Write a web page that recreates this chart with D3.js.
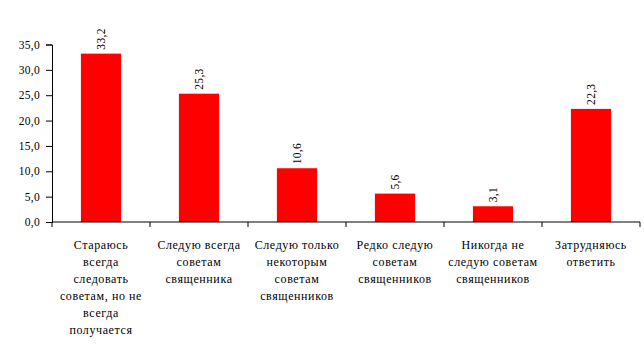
<!DOCTYPE html>
<html><head><meta charset="utf-8">
<script src="https://cdn.jsdelivr.net/npm/d3@7"></script>
<style>body{margin:0;background:#fff;} svg{display:block;}</style>
</head><body>
<script>
const categories = [
  ["Стараюсь","всегда","следовать","советам, но не","всегда","получается"],
  ["Следую всегда","советам","священника"],
  ["Следую только","некоторым","советам","священников"],
  ["Редко следую","советам","священников"],
  ["Никогда не","следую советам","священников"],
  ["Затрудняюсь","ответить"]
];
const values = [33.2, 25.3, 10.6, 5.6, 3.1, 22.3];
const yTicks = [0,5,10,15,20,25,30,35];

const W = 644, H = 356;
const m = {left: 52, right: 4, top: 44.5, bottom: 134};
const FF = '"Liberation Serif"';
const svg = d3.select("body").append("svg").attr("width", W).attr("height", H);

const x = d3.scaleBand().domain(d3.range(values.length)).range([m.left, W - m.right]).paddingInner(0.59).paddingOuter(0.295);
const xb = d3.scaleBand().domain(d3.range(values.length)).range([m.left, W - m.right]);
const y = d3.scaleLinear().domain([0, 35]).range([H - m.bottom, m.top]);
const fmt = v => d3.format(".1f")(v).replace(".", ",");

svg.append("g").selectAll("rect").data(values).join("rect")
  .attr("x", (d,i) => x(i)).attr("width", x.bandwidth())
  .attr("y", d => y(d)).attr("height", d => y(0) - y(d))
  .attr("fill", "#ff0000");

const ya = svg.append("g").attr("transform", `translate(${m.left},0)`)
  .call(d3.axisLeft(y).tickValues(yTicks).tickSize(6).tickPadding(6).tickFormat(fmt));
ya.select(".domain").attr("stroke", "#000");
ya.selectAll("text").style("font-family", FF).style("font-size", "11.5px").style("letter-spacing", "0.3px").attr("fill", "#000");

const xa = svg.append("g").attr("transform", `translate(0,${y(0)})`);
xa.append("line").attr("x1", m.left).attr("x2", W - m.right).attr("stroke", "#000");
xa.selectAll("line.t").data(d3.range(values.length + 1)).join("line").attr("class","t")
  .attr("x1", i => i < values.length ? xb(i) : xb(values.length-1) + xb.bandwidth())
  .attr("x2", i => i < values.length ? xb(i) : xb(values.length-1) + xb.bandwidth())
  .attr("y1", 0).attr("y2", 5).attr("stroke", "#000");

categories.forEach((lines, i) => {
  const t = svg.append("text").style("font-family", FF).style("font-size", "12px").style("letter-spacing", "0.6px")
    .attr("text-anchor", "middle").attr("fill", "#000");
  lines.forEach((l, j) => {
    t.append("tspan").attr("x", xb(i) + xb.bandwidth()/2).attr("y", y(0) + 27 + j*17).text(l);
  });
});

svg.append("g").selectAll("text").data(values).join("text")
  .attr("transform", (d,i) => `translate(${x(i) + x.bandwidth()/2 + 4},${y(d) - 4}) rotate(-90)`)
  .style("font-family", FF).style("font-size", "11.5px").style("letter-spacing", "0.3px").attr("fill", "#000")
  .text(fmt);
</script>
</body></html>
